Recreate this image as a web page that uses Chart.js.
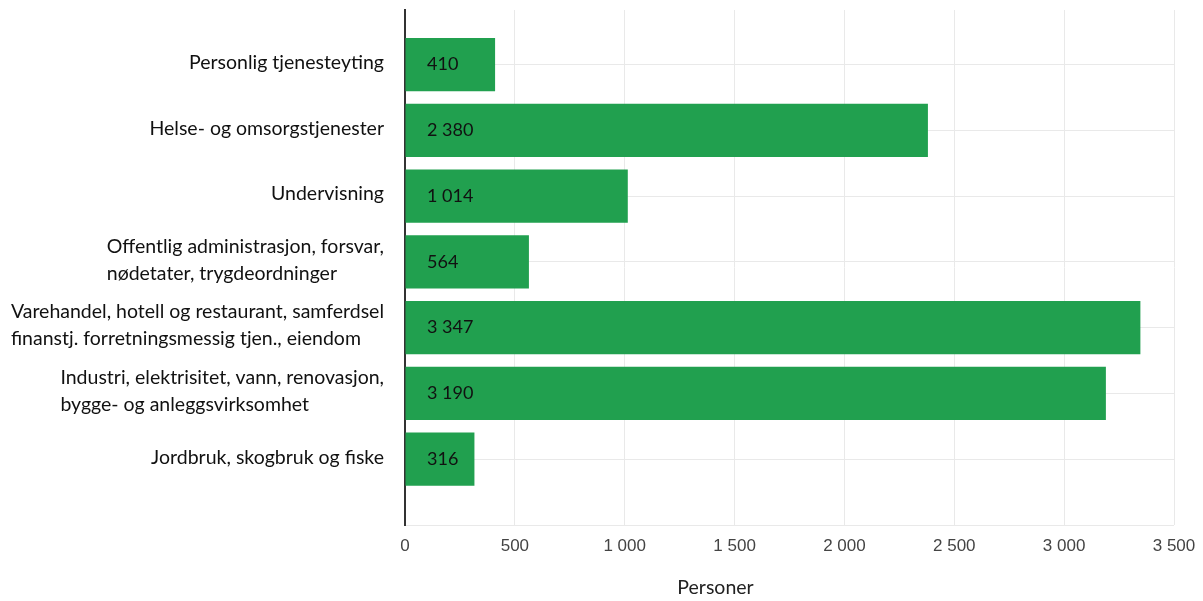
<!DOCTYPE html>
<html>
<head>
<meta charset="utf-8">
<script src="https://cdn.jsdelivr.net/npm/chart.js@4/dist/chart.umd.min.js"></script>
<style>
    html, body { margin: 0; padding: 0; background: #fff; }
    #wrap { width: 1203px; height: 601px; position: relative; }
</style>
</head>
<body>
<div id="wrap"><canvas id="barChart"></canvas></div>
<script>
// data
const categories = [
    ["Personlig tjenesteyting"],
    ["Helse- og omsorgstjenester"],
    ["Undervisning"],
    ["Offentlig administrasjon, forsvar,", "nødetater, trygdeordninger"],
    ["Varehandel, hotell og restaurant, samferdsel", "finanstj. forretningsmessig tjen., eiendom"],
    ["Industri, elektrisitet, vann, renovasjon,", "bygge- og anleggsvirksomhet"],
    ["Jordbruk, skogbruk og fiske"]
];
const persons = [410, 2380, 1014, 564, 3347, 3190, 316];
const xTicks = [0, 500, 1000, 1500, 2000, 2500, 3000, 3500];
const axisTitle = "Personer";

var BARS = (function (BARS) {
    "use strict";

    const LABEL_FONT = '19.5px Lato';
    const VALUE_FONT = '18px Lato';
    const GREEN = '#21a04f';
    const GRID = '#e9e9e9';

    // 1 000 style grouping
    BARS.fmt = v => String(v).replace(/\B(?=(\d{3})+(?!\d))/g, ' ');

    // category labels (left aligned block, right edge near the axis), value labels, axis title
    const textPlugin = {
        id: 'textPlugin',
        afterDraw(chart) {
            const ctx = chart.ctx;
            const xs = chart.scales.x;
            const ys = chart.scales.y;
            ctx.save();
            ctx.font = LABEL_FONT;
            ctx.fillStyle = '#111';
            ctx.textBaseline = 'middle';
            ctx.textAlign = 'left';
            categories.forEach((lines, i) => {
                const w = Math.max(...lines.map(l => ctx.measureText(l).width));
                const left = xs.left - 21 - w;
                const cy = ys.getPixelForValue(i);
                lines.forEach((l, j) => {
                    ctx.fillText(l, left, cy - 2 + (j - (lines.length - 1) / 2) * 27);
                });
            });

            ctx.font = VALUE_FONT;
            const meta = chart.getDatasetMeta(0);
            meta.data.forEach((bar, i) => {
                ctx.fillText(BARS.fmt(persons[i]), xs.getPixelForValue(0) + 22, bar.y);
            });

            ctx.font = LABEL_FONT;
            ctx.textAlign = 'center';
            ctx.fillStyle = '#222';
            ctx.fillText(axisTitle, (xs.left + xs.right) / 2 - 74, chart.height - 13);
            ctx.restore();
        }
    };

    BARS.draw = function () {
        const ctx = document.getElementById('barChart').getContext('2d');
        new Chart(ctx, {
            type: 'bar',
            data: {
                datasets: [{
                    label: axisTitle,
                    data: persons.map((p, i) => ({ x: p, y: i })),
                    backgroundColor: GREEN,
                    borderWidth: 0,
                    barPercentage: 0.9,
                    categoryPercentage: 0.9
                }]
            },
            plugins: [textPlugin],
            options: {
                indexAxis: 'y',
                responsive: true, maintainAspectRatio: false,
                animation: false,
                layout: { padding: { top: 10, right: 29, left: 0, bottom: 0 } },
                plugins: { legend: { display: false }, tooltip: { enabled: false } },
                scales: {
                    x: {
                        type: 'linear', min: 0, max: 3500,
                        afterBuildTicks: s => { s.ticks = xTicks.map(v => ({ value: v })); },
                        afterFit: s => { s.height = 76; s.paddingRight = 0; s.paddingLeft = 0; },
                        ticks: {
                            padding: 11, color: '#444',
                            font: { family: 'Liberation Sans', size: 17 },
                            callback: v => BARS.fmt(v),
                            maxRotation: 0
                        },
                        grid: { color: GRID, drawTicks: false },
                        border: { display: false }
                    },
                    y: {
                        type: 'linear', reverse: true, offset: false,
                        min: -0.83, max: categories.length,
                        afterBuildTicks: s => {
                            s.ticks = categories.map((c, i) => ({ value: i })).concat([{ value: categories.length }]);
                        },
                        afterFit: s => { s.width = 405; },
                        ticks: { display: false },
                        grid: { color: GRID, drawTicks: false, offset: false },
                        border: { color: '#333', width: 2 }
                    }
                }
            }
        });
    };

    return BARS;
})(window.BARS || {});
BARS.draw();
</script>
</body>
</html>
